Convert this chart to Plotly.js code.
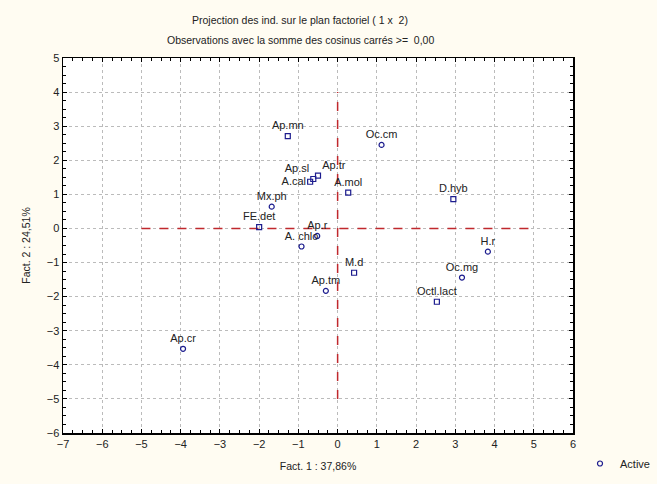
<!DOCTYPE html>
<html>
<head>
<meta charset="utf-8">
<script src="https://cdn.plot.ly/plotly-3.0.1.min.js"></script>
<style>html,body{margin:0;padding:0;background:#FFFCF2;}#chart{width:657px;height:484px;}</style>
</head>
<body>
<div id="chart"></div>
<script>
// Data
const labels = ["Ap.mn","Oc.cm","Ap.tr","A.cal","Ap.sl","A.mol","Mx.ph","D.hyb","FE.det","Ap.r","A. chlo","H.r","M.d","Oc.mg","Ap.tm","Octl.lact","Ap.cr"];
const fact1  = [-1.27, 1.12, -0.50, -0.70, -0.62, 0.27, -1.68, 2.95, -2.00, -0.52, -0.92, 3.83, 0.42, 3.17, -0.30, 2.53, -3.94];
const fact2  = [ 2.71, 2.45,  1.55,  1.37,  1.45, 1.05,  0.64, 0.86,  0.04, -0.22, -0.53, -0.68, -1.30, -1.44, -1.83, -2.15, -3.53];
const hLineX = [-5, 5];
const hLineY = [0, 0];
const vLineX = [0, 0];
const vLineY = [-5, 4];
const xTicks = [-7,-6,-5,-4,-3,-2,-1,0,1,2,3,4,5,6];
const yTicks = [-6,-5,-4,-3,-2,-1,0,1,2,3,4,5];
const legendName = "Active";
const titleLine1 = "Projection des ind. sur le plan factoriel ( 1 x  2)";
const titleLine2 = "Observations avec la somme des cosinus carrés >=  0,00";

// Styles (not data)
const markerSymbols = ["square-open","circle-open","square-open","square-open","square-open","square-open","circle-open","square-open","square-open","circle-open","circle-open","circle-open","square-open","circle-open","circle-open","square-open","circle-open"];
const textPositions = ["top center","top center","top right","middle left","top left","top center","top center","top center","top center","top center","top center","top center","top center","top center","top center","top center","top center"];

const fontFam = "Liberation Sans, Arial, sans-serif";
const textFont = {family: fontFam, size: 11, color: "#222"};
const red = "#C0282D";
const navy = "#1C1C8E";

const traces = [
  {x: hLineX, y: hLineY, mode: "lines", line: {color: red, width: 1.5, dash: "dash"}, showlegend: false, hoverinfo: "skip"},
  {x: vLineX, y: vLineY, mode: "lines", line: {color: red, width: 1.5, dash: "dash"}, showlegend: false, hoverinfo: "skip"},
  {x: fact1, y: fact2, text: labels, mode: "markers+text", name: legendName, showlegend: false,
   textposition: textPositions, textfont: textFont,
   marker: {symbol: markerSymbols, size: 5, color: navy, line: {width: 1.2, color: navy}}},
  {x: [null], y: [null], mode: "markers", name: legendName, showlegend: true,
   marker: {symbol: "circle-open", size: 5, color: navy, line: {width: 1.2, color: navy}}}
];

const axisCommon = {
  showline: true, linecolor: "#000", linewidth: 1.5, mirror: "ticks",
  ticks: "inside", ticklen: 4, tickcolor: "#000", tickwidth: 1,
  showgrid: true, gridcolor: "#BBBBBB", griddash: "dot", gridwidth: 1,
  zeroline: false, tickfont: {family: fontFam, size: 11, color: "#222"},
  minor: {dtick: 0.25, ticks: "inside", ticklen: 3, tickcolor: "#000", showgrid: false}
};

const titleFont = {family: fontFam, size: 10.5, color: "#222"};

const layout = {
  width: 657, height: 484,
  paper_bgcolor: "#FFFCF2", plot_bgcolor: "#FFFFFF",
  margin: {l: 63, r: 84, t: 58, b: 51},
  annotations: [
    {text: titleLine1, xref: "paper", yref: "paper", x: (300 - 63) / 510, y: (433 - 20) / 375,
     xanchor: "center", yanchor: "middle", showarrow: false, font: titleFont},
    {text: titleLine2, xref: "paper", yref: "paper", x: (300 - 63) / 510, y: (433 - 40) / 375,
     xanchor: "center", yanchor: "middle", showarrow: false, font: titleFont}
  ],
  xaxis: Object.assign({}, axisCommon, {range: [-7, 6], tickvals: xTicks,
          title: {text: "Fact. 1 : 37,86%", standoff: 14, font: titleFont}}),
  yaxis: Object.assign({}, axisCommon, {range: [-6, 5], tickvals: yTicks,
          title: {text: "Fact. 2 : 24,51%", standoff: 14, font: titleFont}}),
  showlegend: true,
  legend: {xref: "container", yref: "container", x: 580/657, xanchor: "left", y: 1 - 449/484, yanchor: "top",
           bgcolor: "rgba(0,0,0,0)", font: {family: fontFam, size: 11, color: "#222"}}
};

Plotly.newPlot("chart", traces, layout, {staticPlot: true, displayModeBar: false});
</script>
</body>
</html>
